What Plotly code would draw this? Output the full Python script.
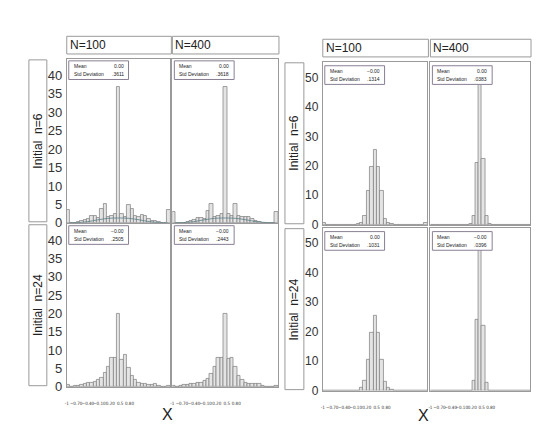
import numpy as np
import plotly.graph_objects as go

W, H = 538, 430

# ---------------- data (percent per bin, 31 bins over [-1, 1]) ----------------
BIN_EDGES = np.linspace(-1, 1, 32)

# Left figure (N=100 / N=400, initial n=6 / n=24)
L_N6_N100 = [3.5, 0, 0, 0.2, 0.4, 0.7, 1.0, 2.0, 1.8, 1.2, 3.8, 5.0, 1.5, 2.0, 2.5, 37,
             2.5, 1.5, 4.8, 3.8, 1.8, 1.5, 2.2, 1.8, 1.0, 0.6, 0.4, 0.2, 0, 0, 3.5]
L_N6_N400 = [3.0, 0, 0, 0.1, 0.3, 0.6, 0.8, 1.2, 1.3, 1.0, 3.2, 5.0, 1.5, 2.0, 2.5, 37,
             2.5, 2.0, 5.0, 2.0, 1.5, 1.5, 1.5, 1.0, 0.5, 0.3, 0.1, 0, 0, 0, 3.0]
L_N24_N100 = [0.4, 0.1, 0.2, 0.3, 0.5, 0.8, 1.0, 1.2, 1.4, 1.8, 2.5, 3.8, 5.5, 7.8, 8.0, 20,
              7.3, 8.8, 5.2, 3.0, 1.8, 1.2, 0.8, 0.8, 0.6, 0.6, 0.8, 0.3, 0.1, 0.1, 0.3]
L_N24_N400 = [0.2, 0.1, 0.2, 0.4, 0.6, 0.8, 0.9, 1.0, 1.2, 1.5, 2.2, 3.5, 5.5, 8.0, 7.8, 20,
              7.5, 8.0, 5.5, 3.0, 1.8, 1.2, 0.9, 0.7, 0.8, 0.7, 0.3, 0.1, 0, 0, 0.3]
# smooth curve drawn at the base of the initial n=6 panels (read points)
CURVE_X = [-0.95, -0.8, -0.6, -0.4, -0.2, 0.0, 0.2, 0.4, 0.6, 0.8, 0.95]
CURVE_Y = [0.0, 0.05, 0.3, 0.8, 1.2, 1.3, 1.2, 0.8, 0.3, 0.05, 0.0]

# Right figure
R_N6_N100 = [0.8, 0.1, 0, 0, 0, 0, 0, 0, 0, 0.1, 0.2, 0.5, 3.0, 11.5, 19.5, 25.5,
             19.5, 11.5, 2.0, 0.8, 0.3, 0.1, 0, 0, 0, 0, 0, 0, 0, 0.1, 0.5]
R_N6_N400 = [0.1, 0, 0, 0, 0, 0, 0, 0, 0, 0, 0, 0, 0.2, 3.0, 21, 48,
             22.5, 3.0, 0.2, 0, 0, 0, 0, 0, 0, 0, 0, 0, 0, 0, 0]
R_N24_N100 = [0.1, 0, 0, 0, 0, 0, 0, 0, 0, 0, 0.1, 1.0, 3.5, 10.5, 19.5, 25.5,
              19.5, 10.5, 3.0, 1.0, 0.2, 0, 0, 0, 0, 0, 0, 0, 0, 0, 0.1]
R_N24_N400 = [0, 0, 0, 0, 0, 0, 0, 0, 0, 0, 0, 0, 0.1, 3.3, 24, 48,
              22, 2.8, 0.1, 0, 0, 0, 0, 0, 0, 0, 0, 0, 0, 0, 0]

MEANS = ["0.00", "0.00", "\u22120.00", "\u22120.00", "\u22120.00", "0.00", "0.00", "\u22120.00"]
STDS = [".3611", ".3618", ".2505", ".2443", ".1314", ".0383", ".1031", ".0396"]

COL_LABELS = ["N=100", "N=400"]
ROW_LABELS = ["Initial  n=6", "Initial  n=24"]
X_TICK_TEXT = ["-1", "\u22120.70", "\u22120.40", "\u22120.10", "0.20", "0.5", "0.80"]
X_TICK_POS = [-1.0, -0.82, -0.59, -0.37, -0.16, 0.03, 0.21]

SERIES = [L_N6_N100, L_N6_N400, L_N24_N100, L_N24_N400,
          R_N6_N100, R_N6_N400, R_N24_N100, R_N24_N400]

# ---------------- layout geometry (pixels) ----------------
FIGS = [
    dict(cols=[(65, 169), (171, 277)], rows=[(60, 227), (228, 394)], ymax=44.5,
         yticks=list(range(0, 45, 5)), ytfs=13,
         hdr_y=(37, 55), rowbox_x=(27, 45), xlab=(166, 422), box_off=(2, 2)),
    dict(cols=[(322, 427), (430, 530)], rows=[(63, 229), (232, 398)], ymax=55.3,
         yticks=list(range(0, 55, 10)), ytfs=12,
         hdr_y=(40, 58), rowbox_x=(284, 303), xlab=(423, 423), box_off=(2, 4)),
]

FONT = "Liberation Sans, Arial, sans-serif"
NARROW = "Liberation Sans Narrow, DejaVu Sans Condensed, Liberation Sans, sans-serif"
BORDER = "#9a9a9a"


def px_x(x):
    return x / W


def px_y(y):
    return 1 - y / H


fig = go.Figure()
layout = dict(width=W, height=H, margin=dict(l=0, r=0, t=0, b=0),
              paper_bgcolor="white", plot_bgcolor="white", showlegend=False,
              bargap=0, font=dict(family=FONT, color="#222"))
shapes, annotations = [], []

centers = (BIN_EDGES[:-1] + BIN_EDGES[1:]) / 2
width = BIN_EDGES[1] - BIN_EDGES[0]

k = 0
for fi, F in enumerate(FIGS):
    for ri, (ry0, ry1) in enumerate(F["rows"]):
        for ci, (cx0, cx1) in enumerate(F["cols"]):
            k += 1
            xa = "x" if k == 1 else f"x{k}"
            ya = "y" if k == 1 else f"y{k}"
            fig.add_trace(go.Bar(x=centers, y=SERIES[k - 1], width=width,
                                 xaxis=xa, yaxis=ya,
                                 marker=dict(color="#e4e4e4",
                                             line=dict(color="#7c7c7c", width=0.7))))
            if fi == 0 and ri == 0:
                fig.add_trace(go.Scatter(x=CURVE_X, y=CURVE_Y, mode="lines", xaxis=xa, yaxis=ya,
                                         line=dict(color="#5a7f8a", width=0.8, shape="spline")))
            layout["xaxis" if k == 1 else f"xaxis{k}"] = dict(
                domain=[px_x(cx0), px_x(cx1)], range=[-1, 1], anchor=ya,
                showgrid=False, zeroline=False, showline=True, mirror=True,
                linecolor=BORDER, linewidth=1, ticks="", tickangle=0,
                showticklabels=(ri == 1), tickvals=X_TICK_POS, ticktext=X_TICK_TEXT,
                tickfont=dict(size=4.5, family=NARROW, color="#333"), ticklabelstandoff=12)
            layout["yaxis" if k == 1 else f"yaxis{k}"] = dict(
                domain=[px_y(ry1), px_y(ry0)], range=[0, F["ymax"]], anchor=xa,
                showgrid=False, zeroline=False, showline=True, mirror=True,
                linecolor=BORDER, linewidth=1, ticks="",
                showticklabels=(ci == 0), tickvals=F["yticks"],
                tickfont=dict(size=F["ytfs"], family=FONT, color="#333"), ticklabelstandoff=1)
            # stats box
            bx0 = cx0 + F["box_off"][0]
            by0 = ry0 + F["box_off"][1]
            bx1, by1 = bx0 + 60, by0 + 19
            shapes.append(dict(type="rect", xref="paper", yref="paper",
                               x0=px_x(bx0), x1=px_x(bx1), y0=px_y(by1), y1=px_y(by0),
                               line=dict(color="#8a7f95", width=1), fillcolor="white"))
            for j, (lab, val) in enumerate([("Mean", MEANS[k - 1]), ("Std Deviation", STDS[k - 1])]):
                yy = by0 + 5 + j * 8.5
                annotations.append(dict(xref="paper", yref="paper", x=px_x(bx0 + 3), y=px_y(yy),
                                        text=lab, showarrow=False, xanchor="left", yanchor="middle",
                                        font=dict(size=5, family=FONT, color="#222")))
                annotations.append(dict(xref="paper", yref="paper", x=px_x(bx1 - 3), y=px_y(yy),
                                        text=val, showarrow=False, xanchor="right", yanchor="middle",
                                        font=dict(size=5, family=FONT, color="#222")))
    # column headers
    hy0, hy1 = F["hdr_y"]
    for ci, (cx0, cx1) in enumerate(F["cols"]):
        shapes.append(dict(type="rect", xref="paper", yref="paper",
                           x0=px_x(cx0), x1=px_x(cx1 + 1), y0=px_y(hy1), y1=px_y(hy0),
                           line=dict(color=BORDER, width=1), fillcolor="white"))
        annotations.append(dict(xref="paper", yref="paper", x=px_x(cx0 + 1), y=px_y((hy0 + hy1) / 2),
                                text=COL_LABELS[ci], showarrow=False, xanchor="left", yanchor="middle",
                                font=dict(size=12, family=FONT, color="#222")))
    # row label boxes
    rx0, rx1 = F["rowbox_x"]
    for ri, (ry0, ry1) in enumerate(F["rows"]):
        shapes.append(dict(type="rect", xref="paper", yref="paper",
                           x0=px_x(rx0), x1=px_x(rx1), y0=px_y(ry1 - 1), y1=px_y(ry0 + 1),
                           line=dict(color=BORDER, width=1), fillcolor="white"))
        annotations.append(dict(xref="paper", yref="paper", x=px_x((rx0 + rx1) / 2),
                                y=px_y((ry0 + ry1) / 2), text=ROW_LABELS[ri], textangle=-90,
                                showarrow=False, xanchor="center", yanchor="middle",
                                font=dict(size=12, family=FONT, color="#222")))
    # X axis title
    annotations.append(dict(xref="paper", yref="paper", x=px_x(F["xlab"][0]), y=px_y(F["xlab"][1]),
                            text="X", showarrow=False, xanchor="center", yanchor="middle",
                            font=dict(size=16, family=FONT, color="#222")))

layout["shapes"] = shapes
layout["annotations"] = annotations
fig.update_layout(**layout)
fig.write_html("out.html")
